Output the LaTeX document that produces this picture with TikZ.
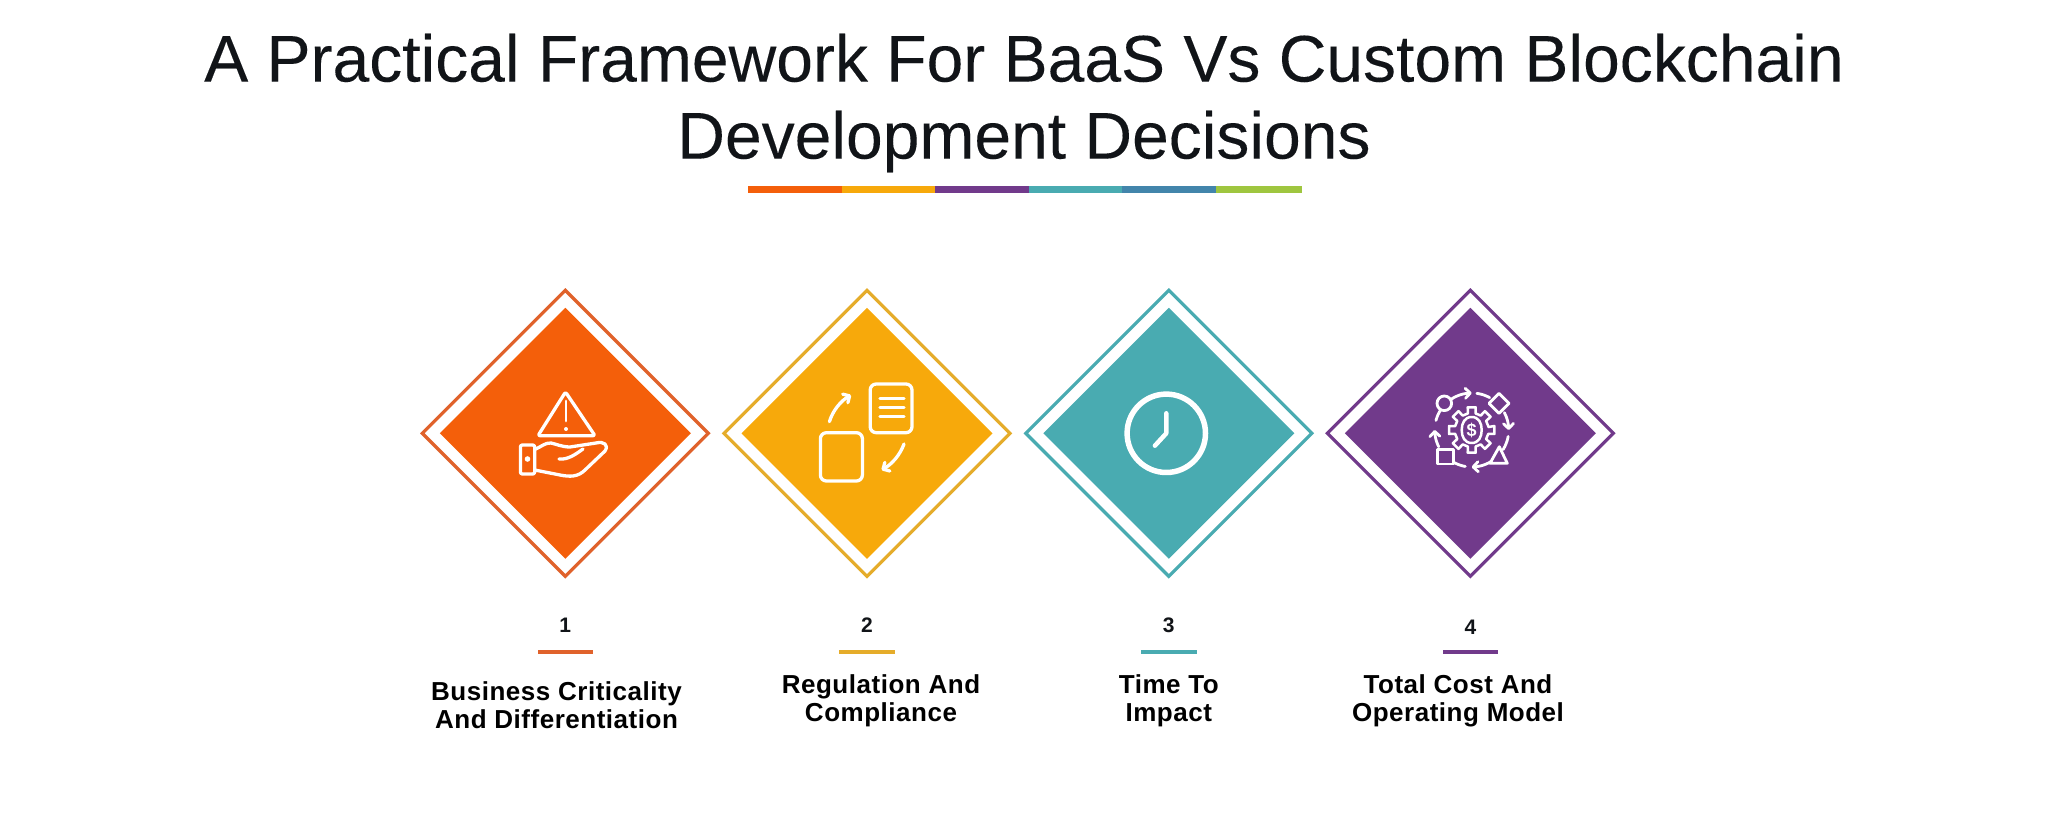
\documentclass[tikz,border=0pt]{standalone}
\usepackage{fontspec}
\setmainfont{Liberation Sans}
\usepackage{tikz}
\usetikzlibrary{arrows.meta}
\usetikzlibrary{shapes.geometric}

\definecolor{brandorange}{HTML}{F45F0A}
\definecolor{brandamber}{HTML}{F7A90B}
\definecolor{brandteal}{HTML}{49ABB1}
\definecolor{brandpurple}{HTML}{713A8B}
\definecolor{brandblue}{HTML}{4285AB}
\definecolor{brandgreen}{HTML}{9FC63F}
\definecolor{lineorange}{HTML}{E0622B}
\definecolor{lineamber}{HTML}{E5AC2A}
\definecolor{inkblack}{HTML}{111418}

\begin{document}
\begin{tikzpicture}[x=1pt,y=-1pt]
  \tikzset{outerdiamond/.style = {shape=diamond,draw,aspect=1,inner sep=0pt,outer sep=0pt,minimum size=286pt,line width=3.2pt}}
  \tikzset{innerdiamond/.style = {shape=diamond,aspect=1,inner sep=0pt,outer sep=0pt,minimum size=251pt}}
  \tikzset{numbar/.style = {shape=rectangle,inner sep=0pt,outer sep=0pt,minimum width=55.5pt,minimum height=4pt}}
  \tikzset{barpart/.style = {shape=rectangle,anchor=west,inner sep=0pt,outer sep=0pt,minimum height=7.5pt}}
  \tikzset{numlabel/.style = {text=inkblack,font=\bfseries\fontsize{21}{24}\selectfont,inner sep=0pt}}
  \tikzset{steplabel/.style = {text=black,align=center,inner sep=0pt,font=\bfseries\fontsize{26}{28.5}\selectfont\addfontfeature{LetterSpace=2}}}
  \tikzset{icon/.style = {draw=white,line width=3.3pt,line join=round,line cap=round}}
  \tikzset{%
  tipB/.tip={Straight Barb[length=5pt,width=10pt,round]},
  }

  \useasboundingbox (0,0) rectangle (2048,818);

  \node[text=inkblack,align=center,inner sep=0pt,font=\fontsize{66}{77}\selectfont\addfontfeature{FakeBold=0.15}] (title) at (1024,103)
    {A Practical Framework For BaaS Vs Custom Blockchain\\Development Decisions};

  % colour strip under the title
  \foreach \name/\from/\wid/\col in {a/747.6/94.2/brandorange, b/841.8/93.5/brandamber, c/935.3/93.7/brandpurple, d/1029/93/brandteal, e/1122/94/brandblue, f/1216/86/brandgreen}
    \node[barpart,fill=\col,minimum width=\wid pt] (strip\name) at (\from,189.5) {};

  % diamonds, numbers and bars
  \foreach \num/\xc/\ny/\col/\linecol in {1/565.3/625/brandorange/lineorange, 2/867/625/brandamber/lineamber, 3/1168.8/625.5/brandteal/brandteal, 4/1470.4/627/brandpurple/brandpurple} {
    \node[outerdiamond,draw=\linecol] (outer\num) at (\xc,433.3) {};
    \node[innerdiamond,fill=\col] (inner\num) at (\xc,433.3) {};
    \node[numlabel] (num\num) at (\xc,\ny) {\num};
    \node[numbar,fill=\linecol] (bar\num) at (\xc,652) {};
  }

  \node[steplabel] (label1) at (556.5,705) {Business Criticality\\And Differentiation};
  \node[steplabel] (label2) at (881,701) {Regulation And\\Compliance};
  \node[steplabel] (label3) at (1168.8,701) {Time To\\Impact};
  \node[steplabel] (label4) at (1458,701) {Total Cost And\\Operating Model};

  % hand and warning sign
  \draw[icon,rounded corners=2pt] (565.5,392) -- (538,435.7) -- (595,435.7) -- cycle;
  \draw[icon,line width=2.8pt] (566,401) -- (566,421);
  \fill[white] (566,429) circle (2);
  \draw[icon,rounded corners=2pt] (520.4,445) rectangle (534.7,474);
  \fill[white] (527.5,459) circle (2.8);
  \draw[icon] (534.7,449.5) .. controls (541,447) and (545,442.5) .. (551,443) .. controls (556,444) and (562,447) .. (570,447) -- (596,443) .. controls (604,441) and (609,445) .. (605,451) -- (585,470) .. controls (578,477) and (570,477) .. (560,475) -- (534.7,470);
  \draw[icon] (559,459) .. controls (568,460) and (576,454) .. (583,449);

  % two sheets with arrows
  \draw[icon,rounded corners=6pt] (870.2,384) rectangle (912,432.7);
  \foreach \yl in {398.3,407.3,416.7}
    \draw[icon] (880,\yl) -- (904,\yl);
  \draw[icon,rounded corners=6pt] (820.4,432.7) rectangle (862.4,481);
  \draw[icon,-tipB] (829.4,421.7) .. controls (833,410) and (841,401) .. (851,395);
  \draw[icon,-tipB] (904,444) .. controls (900,455) and (892,464) .. (881.6,470);

  % clock
  \draw[icon,line width=5.5pt] (1166.3,433.3) circle (39.2);
  \draw[icon,line width=4.5pt] (1166.3,413.3) -- (1166.3,433.3) -- (1154.9,445.7);

  % gear in a ring of shapes
  \begin{scope}[shift={(1471.7,430)}]
    \draw[icon,line width=2.5pt] (0,-13) .. controls (-7,-13) and (-10,-7) .. (-10,0) .. controls (-10,7) and (-7,13) .. (0,13) .. controls (7,13) and (10,7) .. (10,0) .. controls (10,-7) and (7,-13) .. (0,-13) -- cycle;
    \node[text=white,inner sep=0pt,font=\bfseries\fontsize{18}{20}\selectfont] (dollar) at (0,0) {\$};
    \draw[icon,line width=2.5pt] (-10:17) \foreach \a in {0,45,...,315} { -- (\a-10:23) -- (\a+10:23) -- (\a+13:17) -- (\a+32:17) } -- cycle;
    \foreach \from/\to in {-124/-90,-28/0,58/90,153/180}
      \draw[icon,line width=2.8pt,-tipB] plot[domain=\from:\to,samples=8] (\x:37);
    \foreach \from/\to in {-82/-61,10/32,100/120,195/212}
      \draw[icon,line width=2.8pt] plot[domain=\from:\to,samples=8] (\x:37);
    \draw[icon,line width=2.8pt] (-27.4,-26.7) circle (7.3);
    \draw[icon,line width=2.8pt] (27.3,-36.7) -- (37.3,-26.7) -- (27.3,-16.7) -- (17.3,-26.7) -- cycle;
    \draw[icon,line width=2.8pt] (27.6,16.7) -- (35.6,33.3) -- (18.3,33.3) -- cycle;
    \draw[icon,line width=2.8pt] (-34,19.3) rectangle (-18.4,34);
  \end{scope}
\end{tikzpicture}
\end{document}
